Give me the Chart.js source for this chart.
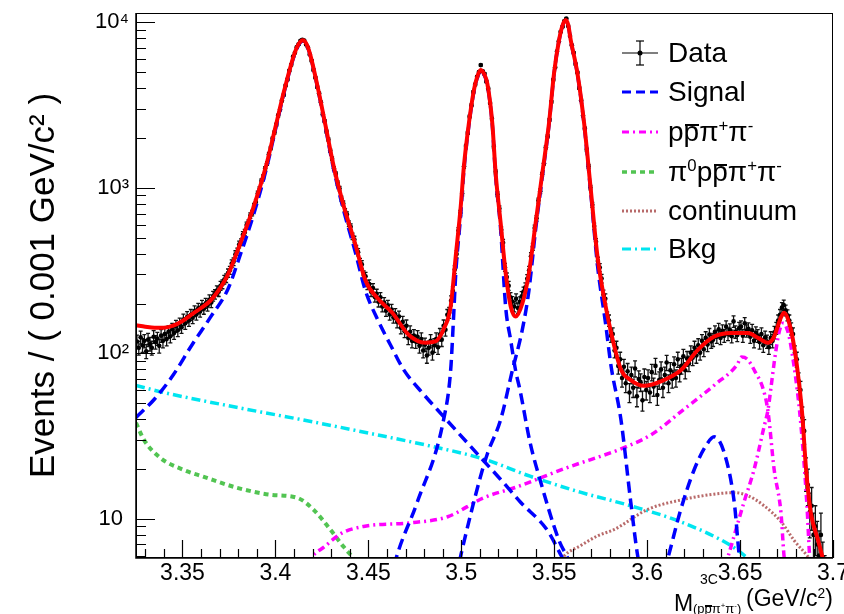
<!DOCTYPE html>
<html>
<head>
<meta charset="utf-8">
<script src="https://cdn.jsdelivr.net/npm/chart.js@4.4.1/dist/chart.umd.min.js"></script>
<style>
  body { margin: 0; background: #fff; }
  #wrap { position: relative; width: 844px; height: 614px; background: #fff; overflow: hidden; }
  #chart { position: absolute; left: 0; top: 0; }
  .row { position: absolute; left: 618px; height: 34px; display: flex; align-items: center;
         font: 28px 'Liberation Sans', Arial, sans-serif; white-space: nowrap; color: #000; }
  .row svg { flex: none; }
  sup { font-size: 0.6em; vertical-align: 0.6em; line-height: 0; }
  .ov { position: relative; }
  .ov::before { content: ''; position: absolute; left: 0.06em; right: 0.02em; top: 0.27em; border-top: 2px solid #000; }
  .xt { position: absolute; font-family: 'Liberation Sans', Arial, sans-serif; line-height: 1; white-space: nowrap; color: #000; }
</style>
</head>
<body>
<div id="wrap">
  <canvas id="chart" width="844" height="614"></canvas>

  <div class="row" style="top:36px">
    <svg width="50" height="34">
      <line x1="4" y1="17" x2="40" y2="17" stroke="#000" stroke-width="1.2"/>
      <line x1="22" y1="5" x2="22" y2="29" stroke="#000" stroke-width="1.2"/>
      <line x1="18" y1="5" x2="26" y2="5" stroke="#000" stroke-width="1.2"/>
      <line x1="18" y1="29" x2="26" y2="29" stroke="#000" stroke-width="1.2"/>
      <circle cx="22" cy="17" r="2.5" fill="#000"/>
    </svg><span>Data</span>
  </div>
  <div class="row" style="top:75px">
    <svg width="50" height="34"><line x1="4" y1="17" x2="40" y2="17" stroke="#0000ff" stroke-width="3" stroke-dasharray="9 5"/></svg><span>Signal</span>
  </div>
  <div class="row" style="top:115px">
    <svg width="50" height="34"><line x1="4" y1="17" x2="40" y2="17" stroke="#ff00ff" stroke-width="3" stroke-dasharray="7 4 2 4"/></svg><span>p<span class="ov">p</span>π<sup>+</sup>π<sup>-</sup></span>
  </div>
  <div class="row" style="top:155px">
    <svg width="50" height="34"><line x1="4" y1="17" x2="40" y2="17" stroke="#52c452" stroke-width="3.5" stroke-dasharray="5 4"/></svg><span>π<sup>0</sup>p<span class="ov">p</span>π<sup>+</sup>π<sup>-</sup></span>
  </div>
  <div class="row" style="top:194px">
    <svg width="50" height="34"><line x1="4" y1="17" x2="40" y2="17" stroke="#b86a6a" stroke-width="3" stroke-dasharray="2 2"/></svg><span>continuum</span>
  </div>
  <div class="row" style="top:232px">
    <svg width="50" height="34"><line x1="4" y1="17" x2="40" y2="17" stroke="#00e5f0" stroke-width="3" stroke-dasharray="9 4 2 4"/></svg><span>Bkg</span>
  </div>

  <span class="xt" style="left:674px; top:592px; font-size:23px">M</span>
  <span class="xt" style="left:700px; top:572px; font-size:14px">3C</span>
  <span class="xt" style="left:693px; top:602px; font-size:13px">(p<span class="ov">p</span>π<sup>+</sup>π<sup>-</sup>)</span>
  <span class="xt" style="left:746px; top:587px; font-size:23px">(GeV/c<sup>2</sup>)</span>
</div>

<script>
// histogram: 375 bins of 1 MeV from 3.325 to 3.700
const binLo = 3.325;
const binWidth = 0.001;
const dataY = [
  118, 108, 125, 112, 119, 103, 121, 114, 108, 126, 117, 123, 111, 128, 119, 131, 122, 135, 127, 140, 133, 146, 138, 151, 144,
  160, 152, 166, 158, 171, 164, 180, 172, 187, 179, 195, 186, 201, 194, 211, 203, 222, 228, 240, 236, 256, 262, 279, 285, 306,
  318, 349, 358, 397, 412, 455, 470, 521, 538, 596, 615, 680, 704, 778, 822, 925, 985, 1102, 1170, 1310, 1405, 1598, 1740, 1985, 2160,
  2410, 2735, 2980, 3370, 3650, 4160, 4520, 5110, 5540, 6210, 6560, 7090, 7380, 7730, 7850, 7760, 7350, 7060, 6400, 5870, 5160, 4640, 4070, 3730, 3290,
  2790, 2530, 2190, 1960, 1680, 1500, 1310, 1215, 1070, 990, 862, 805, 722, 690, 608, 582, 510, 488, 428, 409, 356, 345, 298, 292, 259,
  262, 236, 248, 219, 229, 205, 218, 192, 203, 181, 195, 172, 184, 165, 173, 155, 167, 143, 155, 136, 147, 124, 135, 119, 128,
  118, 126, 111, 122, 104, 113, 97, 108, 119, 101, 112, 122, 109, 130, 121, 147, 139, 171, 176, 208, 238, 321, 398, 552, 705,
  925, 1350, 1790, 2150, 2700, 3160, 3800, 4210, 4700, 5010, 5520, 5060, 4890, 4400, 3990, 3260, 2620, 1770, 1250, 915, 752, 558, 466, 331, 289,
  256, 218, 206, 192, 214, 188, 205, 221, 236, 251, 282, 318, 386, 441, 572, 655, 838, 955, 1205, 1410, 1760, 2050, 2580, 3310, 4500,
  5350, 6680, 7700, 8780, 9420, 10200, 10550, 9520, 8290, 7280, 6560, 5600, 4980, 4010, 3390, 2740, 2280, 1700, 1350, 1005, 790, 588, 472, 362, 330,
  283, 226, 214, 165, 158, 128, 131, 104, 108, 84, 92, 71, 83, 66, 78, 58, 74, 62, 81, 55, 70, 67, 52, 72, 60,
  71, 58, 77, 63, 84, 56, 69, 80, 62, 74, 88, 66, 79, 70, 86, 71, 92, 76, 84, 96, 79, 93, 87, 101, 94,
  108, 97, 112, 101, 119, 106, 124, 113, 130, 118, 121, 135, 126, 140, 124, 137, 128, 145, 131, 139, 127, 156, 135, 129, 142,
  145, 128, 152, 137, 141, 126, 138, 119, 133, 128, 117, 131, 112, 125, 118, 109, 124, 119, 134, 142, 158, 171, 189, 196, 182,
  170, 158, 141, 131, 101, 92, 68, 60, 41, 34, 19, 16, 11, 12, 8, 9, 7, 6, 8, 5, 4, 3, 2, 3, 1
];
const dataX = dataY.map((_, i) => +(binLo + (i + 0.5) * binWidth).toFixed(4));

// total fit (red)
const totalX = [3.325, 3.330, 3.335, 3.340, 3.345, 3.350, 3.355, 3.360, 3.365, 3.370, 3.3745, 3.3808, 3.3886, 3.3951, 3.4003,
  3.4048, 3.410, 3.4125, 3.4148, 3.417, 3.4188, 3.4231, 3.4269, 3.4312, 3.4366, 3.4431, 3.4484, 3.455, 3.4629, 3.4715,
  3.4807, 3.486, 3.4905, 3.4943, 3.497, 3.4997, 3.5014, 3.5041, 3.5068, 3.5085, 3.5104, 3.5122, 3.514, 3.5167, 3.5185,
  3.5212, 3.5239, 3.5266, 3.5293, 3.5329, 3.5364, 3.540, 3.5436, 3.5472, 3.5499, 3.5526, 3.5545, 3.5562, 3.5575, 3.5589,
  3.5625, 3.5661, 3.5697, 3.5733, 3.5777, 3.5805, 3.5859, 3.5912, 3.5982, 3.609, 3.6181, 3.6273, 3.6359, 3.6451, 3.6543,
  3.6597, 3.6651, 3.6683, 3.6705, 3.6721, 3.6737, 3.6764, 3.6791, 3.6818, 3.6835, 3.6855, 3.688, 3.692, 3.695, 3.697];
const totalY = [148, 145, 143, 143, 147, 157, 172, 188, 208, 245, 300, 452, 788, 1375, 2400,
  3900, 6345, 7400, 7800, 7300, 6345, 3900, 2400, 1375, 788, 452, 277, 215, 176, 130,
  116, 118, 140, 192, 384, 770, 1343, 2455, 3900, 4650, 5150, 4900, 4281, 2455, 1225,
  611, 305, 192, 167, 201, 305, 611, 1225, 2455, 4920, 7818, 9600, 10330, 9700, 7818,
  4920, 2455, 971, 384, 192, 135, 80, 69, 63.7, 69, 79, 105, 126, 133, 133,
  124, 116, 126, 148, 166, 176, 153, 110, 65, 42, 20, 11, 7.4, 5.5, 4.5];

// signal components (blue)
const sigC0X = [3.325, 3.335, 3.345, 3.355, 3.365, 3.3745, 3.3808, 3.3886, 3.3951, 3.4003, 3.4048, 3.410, 3.4125, 3.4148, 3.417,
  3.4188, 3.4231, 3.4269, 3.4312, 3.4366, 3.4431, 3.4484, 3.455, 3.462, 3.4689, 3.4795, 3.4905, 3.5104, 3.5212, 3.5319,
  3.5464, 3.5545, 3.557];
const sigC0Y = [41, 53, 74, 112, 165, 245, 385, 710, 1300, 2320, 3820, 6260, 7310, 7710, 7220,
  6280, 3840, 2340, 1320, 740, 405, 240, 160, 112, 80, 57, 41.5, 23.5, 17.3, 12.6,
  8.5, 5.8, 5.2];
const sigC1X = [3.4640, 3.4652, 3.4763, 3.4905, 3.4943, 3.4958, 3.497, 3.4997, 3.5014, 3.5041, 3.5068, 3.5085, 3.5104, 3.5122,
  3.514, 3.5167, 3.5185, 3.5212, 3.5239, 3.5266, 3.5293, 3.5316, 3.537, 3.5424, 3.5526, 3.5569, 3.558];
const sigC1Y = [5.2, 5.9, 12.6, 39.8, 79.4, 160, 300, 690, 1270, 2390, 3830, 4580, 5090, 4840,
  4220, 2400, 1170, 560, 190, 120, 78, 60, 29, 17.2, 7.4, 5.9, 5.5];
const sigC2X = [3.499, 3.5003, 3.5104, 3.5142, 3.5212, 3.5275, 3.5329, 3.5364, 3.540, 3.5436, 3.5472, 3.5499, 3.5526, 3.5545,
  3.5562, 3.5575, 3.5589, 3.5625, 3.5661, 3.5697, 3.5733, 3.5777, 3.5805, 3.5859, 3.5912, 3.595, 3.596];
const sigC2Y = [5.5, 6.4, 18.1, 25, 39.8, 79, 140, 240, 560, 1170, 2400, 4870, 7770, 9550,
  10280, 9650, 7770, 4870, 2410, 925, 340, 150, 85, 39.8, 12.6, 5.9, 5.3];
const sigBumpX = [3.609, 3.611, 3.6181, 3.6253, 3.6315, 3.6361, 3.6415, 3.6469, 3.6496, 3.651];
const sigBumpY = [4.8, 5.7, 11.4, 19.8, 27.5, 31.3, 25, 12.5, 5.9, 4.5];

// p pbar pi+ pi- (magenta, two shapes)
const ppBroadX = [3.418, 3.4195, 3.4265, 3.4357, 3.4474, 3.4744, 3.4927, 3.512, 3.530, 3.557, 3.5875, 3.6021, 3.6199,
  3.6367, 3.6483, 3.6508, 3.654, 3.6577, 3.6626, 3.6651, 3.6683, 3.672, 3.6737, 3.675];
const ppBroadY = [5.3, 5.8, 6.8, 8.2, 9.0, 9.5, 10.3, 13.4, 15.6, 20.4, 26.9, 32.2, 46,
  65, 85, 95, 92, 79, 60, 44, 20, 10.9, 5.9, 4.8];
const ppSharpX = [3.642, 3.6435, 3.6521, 3.6575, 3.6629, 3.6651, 3.6667, 3.6683, 3.6705, 3.6721, 3.6733, 3.6748, 3.6765,
  3.678, 3.680, 3.682, 3.684, 3.686, 3.6875, 3.689];
const ppSharpY = [5.2, 5.9, 12.6, 19.8, 36, 46, 63, 87, 126, 148, 152, 145, 125,
  100, 70, 45, 25, 12, 5.8, 4.5];

// pi0 p pbar pi+ pi- (green)
const pi0X = [3.325, 3.3293, 3.338, 3.3504, 3.3611, 3.3795, 3.3973, 3.4118, 3.4204, 3.4296, 3.4366, 3.4414, 3.445];
const pi0Y = [38, 30, 23.4, 19.8, 18, 15.4, 14, 13.4, 11.4, 8.6, 6.8, 5.9, 5.3];

// continuum (brown)
const contX = [3.553, 3.555, 3.5643, 3.5734, 3.5821, 3.6003, 3.6181, 3.6359, 3.6467, 3.6543, 3.6629, 3.6721, 3.6791, 3.6866, 3.689];
const contY = [5.4, 5.9, 6.9, 7.9, 8.6, 11.4, 13, 14.1, 14.4, 13.8, 12, 9.6, 7.4, 5.9, 5.4];

// other background (cyan)
const bkgX = [3.325, 3.34, 3.38, 3.42, 3.45, 3.485, 3.512, 3.537, 3.564, 3.591, 3.618, 3.645, 3.6542, 3.657];
const bkgY = [64, 58, 47, 38.6, 33, 27.3, 23, 18.1, 14.5, 12, 9.6, 6.9, 5.77, 5.4];

const xTickValues = [3.35, 3.4, 3.45, 3.5, 3.55, 3.6, 3.65, 3.7];
const xTickLabels = ['3.35', '3.4', '3.45', '3.5', '3.55', '3.6', '3.65', '3.7'];
const yTickValues = [10, 100, 1000, 10000];
const yTickLabels = ['10 ', '10²', '10³', '10⁴'];

const FONT = "'Liberation Sans', Arial, Helvetica, sans-serif";

function curve(xs, ys, color, width, dash) {
  return {
    type: 'line',
    data: xs.map((x, i) => ({ x: x, y: ys[i] })),
    borderColor: color,
    borderWidth: width,
    borderDash: dash,
    borderCapStyle: 'butt',
    pointRadius: 0,
    pointHoverRadius: 0,
    fill: false,
    cubicInterpolationMode: 'monotone',
    clip: 0
  };
}

// Error bars under the data markers
const errorBars = {
  id: 'errorBars',
  beforeDatasetsDraw(chart) {
    const { ctx, chartArea: a, scales: { x, y } } = chart;
    ctx.save();
    ctx.beginPath();
    ctx.rect(a.left, a.top, a.width, a.height);
    ctx.clip();
    ctx.strokeStyle = '#111';
    ctx.lineWidth = 1.3;
    ctx.beginPath();
    dataY.forEach((v, i) => {
      const err = Math.sqrt(v);
      const px = x.getPixelForValue(dataX[i]);
      const py = y.getPixelForValue(v);
      const top = y.getPixelForValue(v + err);
      const bot = y.getPixelForValue(Math.max(v - err, 0.01));
      ctx.moveTo(px, top); ctx.lineTo(px, bot);
      ctx.moveTo(px - 2, top); ctx.lineTo(px + 2, top);
      ctx.moveTo(px - 2, bot); ctx.lineTo(px + 2, bot);
      ctx.moveTo(x.getPixelForValue(dataX[i] - binWidth / 2), py);
      ctx.lineTo(x.getPixelForValue(dataX[i] + binWidth / 2), py);
    });
    ctx.stroke();
    ctx.restore();
  }
};

// ROOT-like frame with inward ticks
const frame = {
  id: 'frame',
  afterDatasetsDraw(chart) {
    const { ctx, chartArea: a, scales: { x, y } } = chart;
    ctx.save();
    ctx.strokeStyle = '#000';
    ctx.lineWidth = 1;
    ctx.strokeRect(a.left + 0.5, a.top + 0.5, a.width - 1, a.height - 1);
    ctx.lineWidth = 1.5;
    ctx.beginPath();
    ctx.moveTo(a.left, a.top); ctx.lineTo(a.left, a.bottom); ctx.lineTo(a.right, a.bottom);
    ctx.stroke();

    ctx.lineWidth = 1.2;
    ctx.beginPath();
    // y ticks
    const yMinor = [1, 10, 100, 1000].flatMap(d => [2, 3, 4, 5, 6, 7, 8, 9].map(m => m * d));
    yMinor.forEach(v => {
      if (v < y.min || v > y.max) return;
      const py = Math.round(y.getPixelForValue(v)) + 0.5;
      ctx.moveTo(a.left, py); ctx.lineTo(a.left + 10, py);
    });
    yTickValues.forEach(v => {
      const py = Math.round(y.getPixelForValue(v)) + 0.5;
      ctx.moveTo(a.left, py); ctx.lineTo(a.left + 19, py);
    });
    // x ticks
    for (let k = 333; k <= 699; k++) {
      const v = k / 100;
      if (v > x.max) break;
      const px = Math.round(x.getPixelForValue(v)) + 0.5;
      const major = xTickValues.some(t => Math.abs(t - v) < 1e-6);
      ctx.moveTo(px, a.bottom); ctx.lineTo(px, a.bottom - (major ? 18 : 9));
    }
    ctx.stroke();
    ctx.restore();
  }
};

new Chart(document.getElementById('chart'), {
  type: 'line',
  data: {
    datasets: [
      curve(totalX, totalY, '#ff0000', 4, []),
      curve(sigC0X, sigC0Y, '#0000ff', 3.5, [11, 6]),
      curve(sigC1X, sigC1Y, '#0000ff', 3.5, [11, 6]),
      curve(sigC2X, sigC2Y, '#0000ff', 3.5, [11, 6]),
      curve(sigBumpX, sigBumpY, '#0000ff', 3.5, [11, 6]),
      curve(ppBroadX, ppBroadY, '#ff00ff', 3.5, [7, 4, 2, 4]),
      curve(ppSharpX, ppSharpY, '#ff00ff', 3.5, [7, 4, 2, 4]),
      curve(pi0X, pi0Y, '#52c452', 4, [5, 4]),
      curve(contX, contY, '#b86a6a', 3, [2, 2]),
      curve(bkgX, bkgY, '#00e5f0', 3.5, [9, 4, 2, 4]),
      {
        type: 'scatter',
        label: 'Data',
        data: dataY.map((v, i) => ({ x: dataX[i], y: v })),
        pointRadius: 2.3,
        pointBackgroundColor: '#000',
        pointBorderWidth: 0,
        showLine: false,
        clip: 0
      }
    ]
  },
  options: {
    responsive: false,
    animation: false,
    events: [],
    layout: { padding: { top: 13, right: 11, left: 0, bottom: 0 } },
    plugins: {
      legend: { display: false },
      title: { display: false },
      tooltip: { enabled: false }
    },
    scales: {
      x: {
        type: 'linear',
        min: 3.325,
        max: 3.7,
        grid: { display: false, drawTicks: false },
        border: { display: false },
        ticks: {
          color: '#000',
          font: { family: FONT, size: 23 },
          padding: 2,
          maxRotation: 0,
          autoSkip: false,
          callback: (v, i) => xTickLabels[i]
        },
        afterBuildTicks: s => { s.ticks = xTickValues.map(v => ({ value: v })); },
        afterFit: s => { s.height = 56; s.paddingLeft = 0; s.paddingRight = 0; }
      },
      y: {
        type: 'logarithmic',
        min: 5.8,
        max: 11400,
        grid: { display: false, drawTicks: false },
        border: { display: false },
        ticks: {
          color: '#000',
          font: { family: FONT, size: 22 },
          padding: 7,
          autoSkip: false,
          callback: (v, i) => yTickLabels[i]
        },
        title: {
          display: true,
          text: 'Events / ( 0.001 GeV/c² )',
          color: '#000',
          font: { family: FONT, size: 35 },
          padding: { top: 23, bottom: 0 }
        },
        afterBuildTicks: s => { s.ticks = yTickValues.map(v => ({ value: v })); },
        afterFit: s => { s.width = 136; s.paddingTop = 0; s.paddingBottom = 0; }
      }
    }
  },
  plugins: [errorBars, frame]
});
</script>
</body>
</html>
